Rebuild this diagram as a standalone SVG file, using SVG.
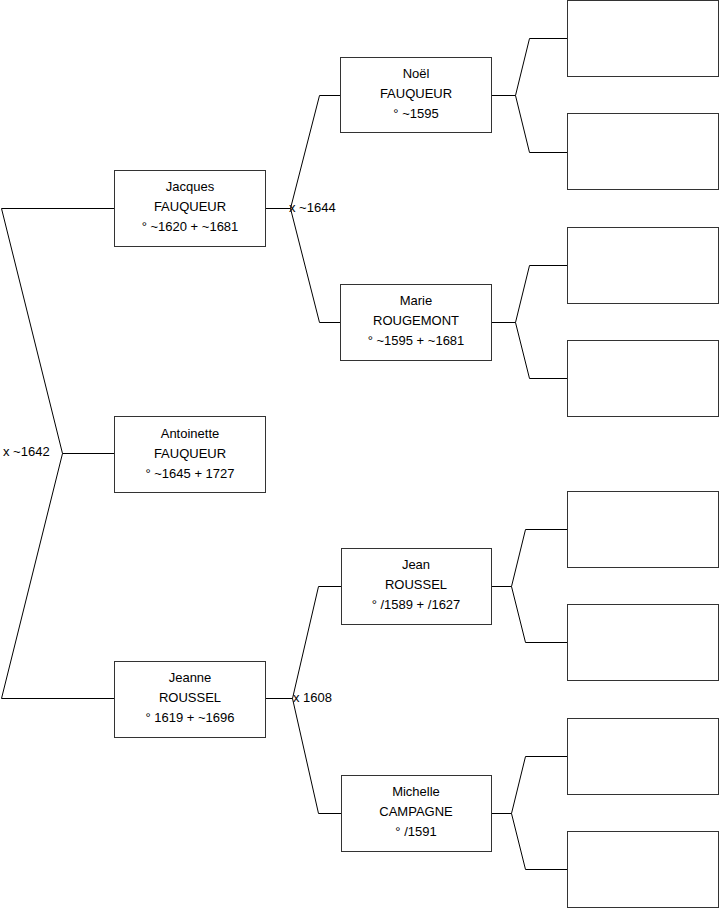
<svg xmlns="http://www.w3.org/2000/svg" width="719" height="908" viewBox="0 0 719 908">
<style>
rect{fill:#fff;stroke:#333;stroke-width:1}
text{font-family:"Liberation Sans",Arial,sans-serif;font-size:13px;fill:#000}
.c{text-anchor:middle}
#connectors path{fill:none;stroke:#000;stroke-width:1}
</style>
<rect x="0" y="0" width="719" height="908" style="stroke:none"/>
<g id="connectors">
<path d="M114 208.5H1.5L62.5 453.5L1.5 698.5H114M62.5 453.5H114"/>
<path d="M265 208.5H290.5L319.5 95.5H340M290.5 208.5L319.5 322.5H340"/>
<path d="M265 698.5H292.5L318.5 586.5H341M292.5 698.5L318.5 813.5H341"/>
<path d="M491 95.5H515.5L529.5 38.5H567M515.5 95.5L529.5 152.5H567"/>
<path d="M491 322.5H515.5L529.5 265.5H567M515.5 322.5L529.5 378.5H567"/>
<path d="M491 586.5H511.5L525.5 529.5H567M511.5 586.5L525.5 642.5H567"/>
<path d="M491 813.5H511.5L525.5 756.5H567M511.5 813.5L525.5 869.5H567"/>
<text x="289" y="212">x ~1644</text>
<text x="3" y="456">x ~1642</text>
<text x="293" y="702">x 1608</text>
</g>
<g id="jacques"><rect x="114.5" y="170.5" width="151" height="76"/><text class="c" x="190" y="191">Jacques</text><text class="c" x="190" y="211">FAUQUEUR</text><text class="c" x="190" y="231">° ~1620 + ~1681</text></g>
<g id="antoinette"><rect x="114.5" y="416.5" width="151" height="76"/><text class="c" x="190" y="438">Antoinette</text><text class="c" x="190" y="458">FAUQUEUR</text><text class="c" x="190" y="478">° ~1645 + 1727</text></g>
<g id="jeanne"><rect x="114.5" y="661.5" width="151" height="76"/><text class="c" x="190" y="682">Jeanne</text><text class="c" x="190" y="702">ROUSSEL</text><text class="c" x="190" y="722">° 1619 + ~1696</text></g>
<g id="noel"><rect x="340.5" y="57.5" width="151" height="75"/><text class="c" x="416" y="78">Noël</text><text class="c" x="416" y="98">FAUQUEUR</text><text class="c" x="416" y="118">° ~1595</text></g>
<g id="marie"><rect x="340.5" y="284.5" width="151" height="76"/><text class="c" x="416" y="305">Marie</text><text class="c" x="416" y="325">ROUGEMONT</text><text class="c" x="416" y="345">° ~1595 + ~1681</text></g>
<g id="jean"><rect x="341.5" y="548.5" width="150" height="76"/><text class="c" x="416" y="569">Jean</text><text class="c" x="416" y="589">ROUSSEL</text><text class="c" x="416" y="609">° /1589 + /1627</text></g>
<g id="michelle"><rect x="341.5" y="775.5" width="150" height="76"/><text class="c" x="416" y="796">Michelle</text><text class="c" x="416" y="816">CAMPAGNE</text><text class="c" x="416" y="836">° /1591</text></g>
<g id="g3a"><rect x="567.5" y="0.5" width="151" height="76"/></g>
<g id="g3b"><rect x="567.5" y="113.5" width="151" height="76"/></g>
<g id="g3c"><rect x="567.5" y="227.5" width="151" height="76"/></g>
<g id="g3d"><rect x="567.5" y="340.5" width="151" height="76"/></g>
<g id="g3e"><rect x="567.5" y="491.5" width="151" height="76"/></g>
<g id="g3f"><rect x="567.5" y="604.5" width="151" height="76"/></g>
<g id="g3g"><rect x="567.5" y="718.5" width="151" height="76"/></g>
<g id="g3h"><rect x="567.5" y="831.5" width="151" height="76"/></g>
</svg>
